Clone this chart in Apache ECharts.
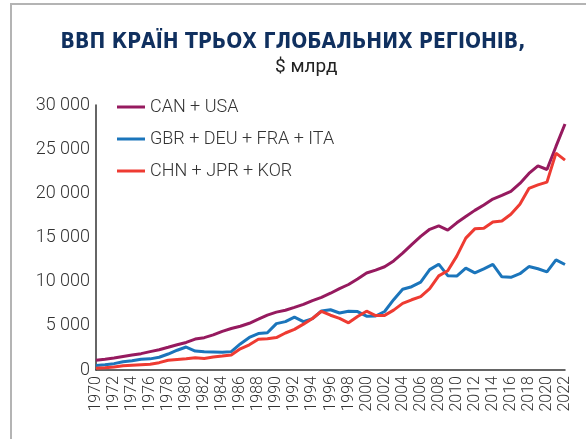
<!DOCTYPE html>
<html>
<head>
<meta charset="utf-8">
<title>ВВП країн трьох глобальних регіонів</title>
<script src="https://cdn.jsdelivr.net/npm/echarts@6/dist/echarts.min.js"></script>
<style>
  html, body { margin: 0; padding: 0; background: #fff; }
  .frame {
    position: absolute; left: 10px; top: 3px; width: 600px; height: 460px;
    border-top: 2px solid #b4b4b4; border-left: 2px solid #b4b4b4;
  }
  #chartBox { position: absolute; left: 0; top: 0; width: 586px; height: 439px; }
</style>
</head>
<body>
<div class="frame"></div>
<div id="chartBox"></div>
<script>
  // роки 1970..2022
  var years = ['1970','1971','1972','1973','1974','1975','1976','1977','1978','1979',
    '1980','1981','1982','1983','1984','1985','1986','1987','1988','1989',
    '1990','1991','1992','1993','1994','1995','1996','1997','1998','1999',
    '2000','2001','2002','2003','2004','2005','2006','2007','2008','2009',
    '2010','2011','2012','2013','2014','2015','2016','2017','2018','2019',
    '2020','2021','2022'];

  // $ млрд
  var canUsa = [1100, 1220, 1360, 1530, 1690, 1850, 2080, 2290, 2570, 2860,
    3120, 3500, 3660, 3970, 4380, 4700, 4950, 5290, 5750, 6220,
    6550, 6760, 7090, 7430, 7860, 8230, 8690, 9220, 9680, 10300,
    10980, 11310, 11690, 12350, 13230, 14200, 15130, 15930, 16310, 15840,
    16660, 17380, 18070, 18680, 19350, 19760, 20220, 21120, 22250, 23110,
    22700, 25310, 27850];

  var gbrDeuFraIta = [500, 590, 720, 930, 1050, 1220, 1260, 1440, 1810, 2240,
    2600, 2150, 2060, 2040, 2000, 2080, 2950, 3680, 4130, 4220,
    5250, 5480, 5980, 5480, 5820, 6680, 6820, 6450, 6640, 6610,
    6090, 6110, 6620, 7960, 9140, 9430, 9950, 11360, 11980, 10680,
    10640, 11530, 10990, 11450, 11950, 10550, 10490, 10900, 11710, 11460,
    11110, 12470, 11940];

  var chnJprKor = [200, 250, 340, 480, 540, 600, 660, 830, 1110, 1200,
    1270, 1390, 1310, 1460, 1580, 1710, 2400, 2850, 3480, 3550,
    3670, 4190, 4600, 5190, 5830, 6650, 6200, 5840, 5340, 6050,
    6660, 6160, 6180, 6780, 7540, 7950, 8300, 9200, 10650, 11230,
    12890, 14930, 15980, 16050, 16760, 16870, 17630, 18760, 20550, 20950,
    21270, 24550, 23760];

  var seriesNames = ['CAN + USA', 'GBR + DEU + FRA + ITA', 'CHN + JPR + KOR'];

  var chart = echarts.init(document.getElementById('chartBox'));

  var option = {
    backgroundColor: 'transparent',
    animation: false,
    title: [
      {
        text: 'ВВП КРАЇН ТРЬОХ ГЛОБАЛЬНИХ РЕГІОНІВ,',
        left: 'center',
        top: 27,
        textStyle: {
          fontFamily: '"Liberation Sans Narrow", "DejaVu Sans Condensed", "Roboto Condensed", sans-serif',
          fontWeight: 'bold',
          fontSize: 21,
          color: '#10305f'
        }
      },
      {
        text: '$ млрд',
        left: 270,
        top: 53,
        textStyle: {
          fontFamily: 'Roboto, "Liberation Sans", sans-serif',
          fontWeight: 'normal',
          fontSize: 19,
          color: '#222'
        }
      }
    ],
    color: ['#961a5f', '#1b75bb', '#ee3b32'],
    legend: {
      data: seriesNames,
      orient: 'vertical',
      left: 112,
      top: 93,
      itemWidth: 28,
      itemHeight: 3,
      itemGap: 14,
      icon: 'rect',
      textStyle: {
        fontFamily: 'Roboto, "Liberation Sans", sans-serif',
        fontWeight: 300,
        fontSize: 18,
        color: '#333'
      }
    },
    grid: {
      left: 96,
      right: 21,
      top: 105,
      bottom: 69
    },
    xAxis: {
      type: 'category',
      data: years,
      boundaryGap: false,
      axisLine: { lineStyle: { color: '#333', width: 1.5 } },
      axisTick: { show: false },
      axisLabel: {
        interval: 1,
        rotate: 90,
        margin: 6,
        fontFamily: 'Roboto, "Liberation Sans", sans-serif',
        fontWeight: 300,
        fontSize: 16,
        color: '#333'
      }
    },
    yAxis: {
      type: 'value',
      min: 0,
      max: 30000,
      interval: 5000,
      splitLine: { show: false },
      axisLine: { show: true, lineStyle: { color: '#333', width: 1.5 } },
      axisTick: { show: false },
      axisLabel: {
        margin: 6,
        fontFamily: 'Roboto, "Liberation Sans", sans-serif',
        fontWeight: 300,
        fontSize: 18,
        color: '#333',
        formatter: function (v) {
          return String(v).replace(/\B(?=(\d{3})+(?!\d))/g, ' ');
        }
      }
    },
    series: [
      {
        name: seriesNames[0],
        type: 'line',
        data: canUsa,
        symbol: 'none',
        lineStyle: { width: 3 }
      },
      {
        name: seriesNames[1],
        type: 'line',
        data: gbrDeuFraIta,
        symbol: 'none',
        lineStyle: { width: 3 }
      },
      {
        name: seriesNames[2],
        type: 'line',
        data: chnJprKor,
        symbol: 'none',
        lineStyle: { width: 3 }
      }
    ]
  };

  chart.setOption(option);
</script>
</body>
</html>
